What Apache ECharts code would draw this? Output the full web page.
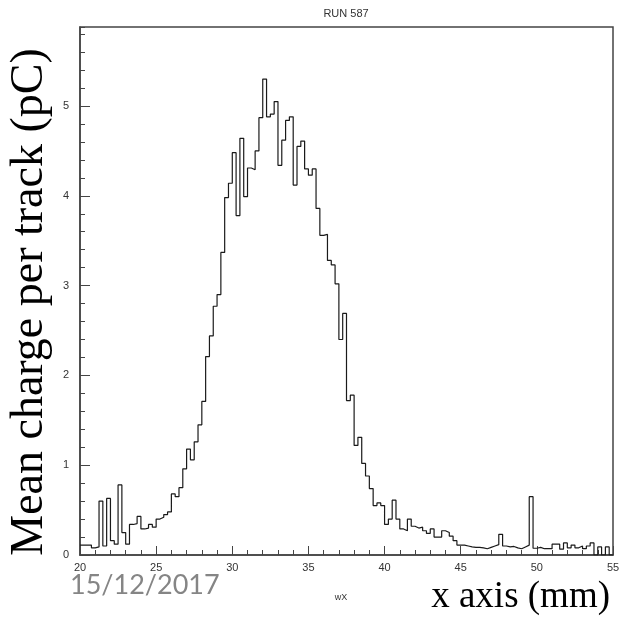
<!DOCTYPE html>
<html>
<head>
<meta charset="utf-8">
<script src="https://cdn.jsdelivr.net/npm/echarts@6/dist/echarts.min.js"></script>
<style>
  html, body { margin: 0; padding: 0; background: #fff; }
  #chart { width: 623px; height: 627px; }
</style>
</head>
<body>
<div id="chart"></div>
<script>
// histogram binning (wX, mm)
var binStart = 20
var binWidth = 0.25

// mean charge per track in each bin (pC)
var values = [
  0.11, 0.11, 0.11, 0.08, 0.09, 0.60, 0.10, 0.63, 0.16, 0.12,
  0.78, 0.25, 0.12, 0.34, 0.35, 0.43, 0.29, 0.30, 0.34, 0.31,
  0.40, 0.42, 0.45, 0.48, 0.68, 0.65, 0.75, 0.96, 1.18, 1.06,
  1.26, 1.45, 1.71, 2.21, 2.44, 2.77, 2.90, 3.37, 3.98, 4.14,
  4.48, 3.78, 4.64, 3.99, 4.31, 4.29, 4.50, 4.87, 5.30, 4.88,
  4.91, 5.05, 4.34, 4.62, 4.84, 4.88, 4.12, 4.55, 4.61, 4.30,
  4.23, 4.30, 3.86, 3.56, 3.57, 3.28, 3.23, 3.02, 2.40, 2.69,
  1.72, 1.78, 1.22, 1.31, 1.02, 0.88, 0.74, 0.55, 0.58, 0.55,
  0.34, 0.40, 0.61, 0.40, 0.29, 0.27, 0.40, 0.32, 0.30, 0.31,
  0.27, 0.24, 0.29, 0.20, 0.20, 0.27, 0.25, 0.21, 0.16, 0.11,
  0.11, 0.10, 0.09, 0.085, 0.085, 0.08, 0.07, 0.085, 0.10, 0.115,
  0.23, 0.10, 0.09, 0.095, 0.08, 0.07, 0.09, 0.11, 0.65, 0.075,
  0.085, 0.07, 0.07, 0.07, 0.12, 0.12, 0.065, 0.135, 0.08, 0.11,
  0.08, 0.10, 0.07, 0.10, 0.135, 0, 0.09, 0, 0.09, 0
]

// axis ranges / tick labels
var xRange = [20, 55]
var yRange = [0, 5.88]
var xTickLabels = ['20', '25', '30', '35', '40', '45', '50', '55']
var yTickLabels = ['0', '1', '2', '3', '4', '5']

var stepData = []
for (var i = 0; i < values.length; i++) {
  stepData.push([binStart + i * binWidth, values[i]])
}
// close the last bin at its upper edge
stepData.push([binStart + values.length * binWidth, values[values.length - 1]])

var labelFont = 'Liberation Sans'
var chart = echarts.init(document.getElementById('chart'), null, { renderer: 'canvas' })

chart.setOption({
  animation: false,
  backgroundColor: '#fff',
  grid: {
    left: 80,
    right: 10,
    top: 27,
    bottom: 72,
    show: true,
    borderColor: '#444',
    borderWidth: 1.5
  },
  xAxis: {
    type: 'value',
    min: xRange[0],
    max: xRange[1],
    interval: 5,
    axisLine: { show: true, onZero: false, lineStyle: { color: '#444', width: 1.5 } },
    axisTick: { show: true, inside: true, length: 9, lineStyle: { color: '#444' } },
    minorTick: { show: true, splitNumber: 5, length: 5, lineStyle: { color: '#444' } },
    splitLine: { show: false },
    axisLabel: {
      margin: 7,
      fontSize: 11,
      fontFamily: labelFont,
      color: '#333',
      formatter: function(v) {
        var s = String(v)
        return xTickLabels.indexOf(s) >= 0 ? s : ''
      }
    }
  },
  yAxis: [
    {
      type: 'value',
      min: yRange[0],
      max: yRange[1],
      interval: 1,
      axisLine: { show: true, lineStyle: { color: '#444', width: 1.5 } },
      axisTick: { show: true, inside: true, length: 10, lineStyle: { color: '#444' } },
      splitLine: { show: false },
      axisLabel: {
        margin: 11,
        fontSize: 11,
        fontFamily: labelFont,
        color: '#333',
        showMaxLabel: false,
        formatter: function(v) {
          var s = String(v)
          return yTickLabels.indexOf(s) >= 0 ? s : ''
        }
      }
    },
    {
      // minor ticks every 0.2
      type: 'value',
      position: 'left',
      min: yRange[0],
      max: yRange[1],
      interval: 0.2,
      axisLine: { show: false },
      axisTick: { show: true, inside: true, length: 5, lineStyle: { color: '#444' } },
      splitLine: { show: false },
      axisLabel: { show: false }
    }
  ],
  series: [
    {
      type: 'line',
      step: 'end',
      yAxisIndex: 0,
      data: stepData,
      symbol: 'none',
      lineStyle: { color: '#1a1a1a', width: 1.2 }
    }
  ],
  graphic: [
    {
      type: 'text',
      x: 346,
      y: 14,
      style: {
        text: 'RUN 587',
        font: '11px "Liberation Sans"',
        fill: '#333',
        textAlign: 'center',
        textVerticalAlign: 'middle'
      }
    },
    {
      type: 'text',
      x: 341,
      y: 598,
      style: {
        text: 'wX',
        font: '9px "Liberation Sans"',
        fill: '#333',
        textAlign: 'center',
        textVerticalAlign: 'middle'
      }
    },
    {
      type: 'text',
      x: 70,
      y: 585,
      style: {
        text: '15/12/2017',
        font: '27px Lato',
        fill: '#858585',
        textAlign: 'left',
        textVerticalAlign: 'middle'
      }
    },
    {
      type: 'text',
      x: 610,
      y: 597,
      style: {
        text: 'x axis (mm)',
        font: '37px "Liberation Serif"',
        fill: '#000',
        textAlign: 'right',
        textVerticalAlign: 'middle'
      }
    },
    {
      type: 'text',
      x: 30,
      y: 302,
      rotation: Math.PI / 2,
      style: {
        text: 'Mean charge per track (pC)',
        font: '46px "Liberation Serif"',
        fill: '#000',
        textAlign: 'center',
        textVerticalAlign: 'middle'
      }
    }
  ]
})
</script>
</body>
</html>
